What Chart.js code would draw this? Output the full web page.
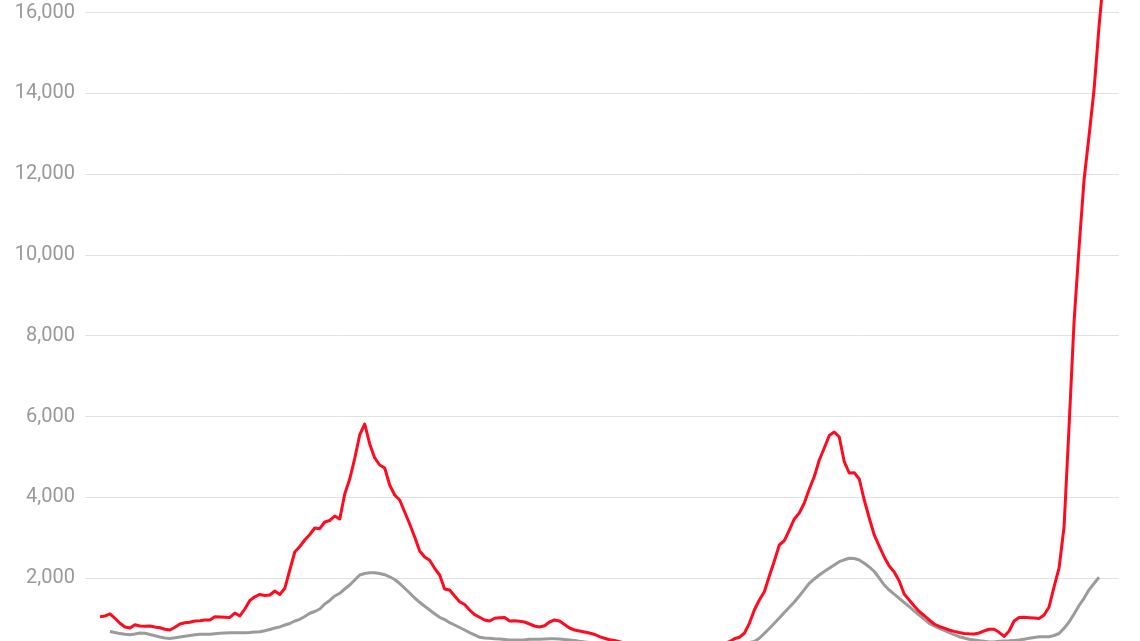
<!DOCTYPE html>
<html>
<head>
<meta charset="utf-8">
<script src="https://cdn.jsdelivr.net/npm/chart.js@4.4.1/dist/chart.umd.min.js"></script>
<style>
  html, body { margin: 0; padding: 0; background: #fff; }
  #wrap { width: 1140px; height: 641px; position: relative; }
</style>
</head>
<body>
<div id="wrap"><canvas id="chart"></canvas></div>
<script>
// y axis gridlines / labels
const tickValues = [2000, 4000, 6000, 8000, 10000, 12000, 14000, 16000];

// x categories: one slot every two days (axis labels are not shown)
const periods = Array.from({ length: 208 }, (_, i) => "P" + (i + 1));

// daily cases (red), slots 4..205
const redSeries = [null, null, null,
  1050, 1067, 1117, 1010, 886, 795, 770, 852, 819, 811,
  819, 795, 775, 738, 720, 787, 869, 901, 911, 943,
  951, 968, 968, 1050, 1042, 1035, 1030, 1141, 1067, 1240,
  1451, 1542, 1600, 1575, 1587, 1685, 1599, 1753, 2205, 2651,
  2787, 2948, 3084, 3245, 3228, 3393, 3431, 3542, 3468, 4087,
  4458, 4970, 5547, 5819, 5325, 4978, 4804, 4730, 4309, 4062,
  3938, 3641, 3344, 3022, 2676, 2527, 2446, 2248, 2082, 1735,
  1710, 1562, 1421, 1351, 1216, 1099, 1035, 968, 943, 1010,
  1025, 1030, 943, 951, 936, 918, 869, 819, 795, 827,
  918, 968, 943, 856, 770, 720, 696, 671, 646, 609,
  555, 515, 478, 460, 430, 400, 380, 360, 340, 320,
  300, 290, 280, 270, 260, 260, 260, 260, 270, 280,
  290, 300, 320, 340, 360, 390, 430, 505, 540, 639,
  886, 1216, 1463, 1668, 2057, 2428, 2824, 2931, 3195, 3468,
  3616, 3864, 4210, 4520, 4928, 5225, 5535, 5621, 5497, 4886,
  4606, 4614, 4458, 3938, 3492, 3072, 2799, 2527, 2304, 2156,
  1933, 1611, 1463, 1314, 1178, 1079, 968, 869, 811, 765,
  720, 686, 659, 636, 626, 621, 646, 696, 738, 738,
  664, 560, 696, 943, 1030, 1035, 1025, 1017, 1005, 1092,
  1290, 1785, 2255, 3270, 5752, 8344, 10175, 11857, 12947, 14085,
  15652, 17000
];

// rolling average (gray), slots 6..204
const graySeries = [null, null, null, null, null,
  683, 659, 631, 614, 602, 621, 646, 639, 609, 577,
  547, 522, 510, 527, 547, 567, 584, 602, 614, 614,
  616, 629, 641, 649, 654, 654, 654, 654, 659, 671,
  678, 703, 733, 770, 795, 844, 881, 943, 985, 1055,
  1134, 1178, 1240, 1364, 1451, 1562, 1629, 1735, 1834, 1958,
  2082, 2119, 2136, 2136, 2119, 2089, 2037, 1970, 1871, 1753,
  1636, 1512, 1406, 1307, 1216, 1124, 1035, 980, 901, 844,
  782, 720, 654, 597, 540, 522, 515, 505, 498, 485,
  473, 473, 473, 480, 490, 490, 490, 498, 505, 503,
  498, 485, 473, 458, 440, 425, 410, 395, 380, 370,
  360, 350, 340, 330, 320, 310, 300, 295, 290, 285,
  280, 275, 270, 270, 270, 270, 270, 275, 280, 285,
  290, 300, 310, 320, 335, 350, 370, 390, 410, 435,
  515, 636, 757, 886, 1017, 1154, 1282, 1413, 1562, 1720,
  1876, 1983, 2082, 2166, 2248, 2329, 2411, 2458, 2495, 2490,
  2453, 2371, 2280, 2168, 2007, 1834, 1710, 1606, 1505, 1401,
  1297, 1191, 1092, 988, 886, 824, 762, 708, 654, 604,
  555, 522, 490, 473, 456, 440, 425, 425, 440, 450,
  455, 463, 473, 493, 515, 535, 555, 555, 555, 584,
  634, 762, 918, 1117, 1327, 1505, 1715, 1871, 2025
];

const ctx = document.getElementById("chart");

new Chart(ctx, {
  type: "line",
  data: {
    labels: periods,
    datasets: [
      {
        label: "Cases",
        data: redSeries,
        borderColor: "#ff0a1e",
        borderWidth: 3,
        pointRadius: 0,
        tension: 0,
        fill: false,
        borderJoinStyle: "round",
        clip: false,
      },
      {
        label: "Average",
        data: graySeries,
        borderColor: "#9b9b9b",
        borderWidth: 3,
        pointRadius: 0,
        tension: 0,
        fill: false,
        borderJoinStyle: "round",
        clip: false,
      },
    ],
  },
  options: {
    responsive: true,
    maintainAspectRatio: false,
    animation: false,
    layout: { padding: { left: 0, right: 21, top: 0, bottom: 0 } },
    plugins: {
      legend: { display: false },
      tooltip: { enabled: false },
    },
    scales: {
      x: {
        display: false,
        offset: false,
      },
      y: {
        min: 448,
        max: 16313,
        border: { display: false },
        grid: {
          color: "#e2e2e2",
          lineWidth: 1,
          drawTicks: false,
        },
        ticks: {
          padding: 10,
          color: "#999999",
          font: { family: "Roboto", size: 20 },
          callback: (v) => v.toLocaleString("en-US"),
        },
        afterBuildTicks: (scale) => {
          scale.ticks = tickValues.map((v) => ({ value: v }));
        },
        afterFit: (scale) => {
          scale.width = 85;
          scale.paddingTop = 0;
          scale.paddingBottom = 0;
        },
      },
    },
  },
});
</script>
</body>
</html>
